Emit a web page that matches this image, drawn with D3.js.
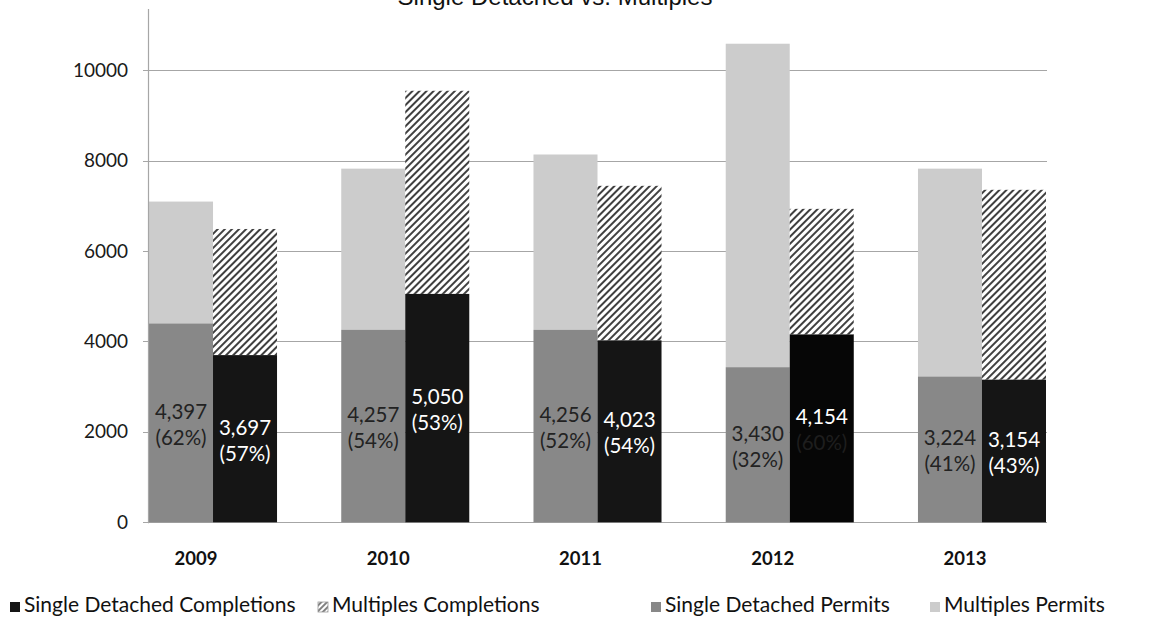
<!DOCTYPE html>
<html><head><meta charset="utf-8">
<script src="https://cdn.jsdelivr.net/npm/d3@7"></script>
<style>body{margin:0;background:#fff}svg{display:block}</style>
</head><body>
<svg id="c" width="1159" height="626"></svg>
<script>
const years = ["2009","2010","2011","2012","2013"];
const singlePermits = [4397,4257,4256,3430,3224];
const multiplesPermits = [2695,3563,3877,7152,4596];
const singleCompletions = [3697,5050,4023,4154,3154];
const multiplesCompletions = [2789,4492,3417,2777,4198];
const permitShareLabels = ["62%","54%","52%","32%","41%"];
const completionShareLabels = ["57%","53%","54%","60%","43%"];
const yTicks = [0,2000,4000,6000,8000,10000];
const seriesNames = ["Single Detached Completions","Multiples Completions","Single Detached Permits","Multiples Permits"];
const titleText = "Single Detached vs. Multiples";

const svg = d3.select("#c");
const FONT = "Lato, 'Open Sans', sans-serif";
const defs = svg.append("defs");
const pat = defs.append("pattern").attr("id","hatch").attr("patternUnits","userSpaceOnUse")
  .attr("width",5).attr("height",5).attr("patternTransform","rotate(45)");
pat.append("rect").attr("width",5).attr("height",5).attr("fill","#fff");
pat.append("line").attr("x1",1).attr("y1",0).attr("x2",1).attr("y2",5).attr("stroke","#404040").attr("stroke-width",2);
const patS = defs.append("pattern").attr("id","hatchS").attr("patternUnits","userSpaceOnUse")
  .attr("width",4).attr("height",4).attr("patternTransform","rotate(45)");
patS.append("rect").attr("width",4).attr("height",4).attr("fill","#fff");
patS.append("line").attr("x1",1).attr("y1",0).attr("x2",1).attr("y2",4).attr("stroke","#555").attr("stroke-width",1.5);

const left = 149, right = 1046;
const y = d3.scaleLinear().domain([0, 11350]).range([522.3, 9]);
const x = d3.scaleBand().domain(years).range([left, right]).paddingInner(0.334).paddingOuter(0);
const xs = d3.scaleBand().domain(["permits","completions"]).range([0, x.bandwidth()]);

// title
svg.append("text").attr("x",555).attr("y",5).attr("text-anchor","middle")
  .attr("font-family","'Liberation Sans', Arial, sans-serif").attr("font-size",24).attr("fill","#111").text(titleText);

// gridlines
svg.append("g").selectAll("line").data(yTicks).join("line")
  .attr("x1",left-6).attr("x2",right+1).attr("y1",d=>Math.round(y(d))+0.5).attr("y2",d=>Math.round(y(d))+0.5)
  .attr("stroke","#a6a6a6").attr("stroke-width",1);

// y axis labels
const yAxis = svg.append("g").attr("transform",`translate(${left-1},0)`)
  .call(d3.axisLeft(y).tickValues(yTicks).tickSize(0).tickPadding(20).tickFormat(d3.format("d")));
yAxis.select(".domain").remove();
yAxis.selectAll("text").attr("font-family",FONT).attr("font-size",19).attr("fill","#1a1a1a");

// stacked data
const stacksP = years.map((yr,i)=>({yr,i,kind:"permits",s:singlePermits[i],m:multiplesPermits[i]}));
const stacksC = years.map((yr,i)=>({yr,i,kind:"completions",s:singleCompletions[i],m:multiplesCompletions[i]}));
const all = stacksP.concat(stacksC);
const bx = d=>x(d.yr)+xs(d.kind);
const bw = xs.bandwidth();

const g = svg.append("g");
g.selectAll("rect.m").data(all).join("rect").attr("class","m")
  .attr("x",bx).attr("width",bw)
  .attr("y",d=>y(d.s+d.m)).attr("height",d=>y(d.s)-y(d.s+d.m))
  .attr("fill",d=>d.kind==="permits"?"#cccccc":"url(#hatch)");
g.selectAll("rect.s").data(all).join("rect").attr("class","s")
  .attr("x",bx).attr("width",bw)
  .attr("y",d=>y(d.s)).attr("height",d=>y(0)-y(d.s))
  .attr("fill",d=>d.kind==="permits"?"#888888":(d.yr==="2012"?"#060606":"#151515"));

// axis line
svg.append("line").attr("x1",left-0.5).attr("x2",left-0.5).attr("y1",y.range()[1]).attr("y2",y(0)+1)
  .attr("stroke","#a6a6a6").attr("stroke-width",1.2);

// data labels
const fmt = d3.format(",");
const lab = svg.append("g").attr("font-family",FONT).attr("font-size",20.5).attr("text-anchor","middle");
all.forEach(d=>{
  const cx = bx(d)+bw/2, cy = y(d.s/2);
  const share = d.kind==="permits"?permitShareLabels[d.i]:completionShareLabels[d.i];
  const c1 = d.kind==="permits"?"#222222":"#ffffff";
  const c2 = d.kind==="permits"?"#222222":(d.yr==="2012"?"#1e1e1e":"#ffffff");
  lab.append("text").attr("x",cx).attr("y",cy-4).attr("fill",c1).text(fmt(d.s));
  lab.append("text").attr("x",cx).attr("y",cy+22).attr("fill",c2).text("("+share+")");
});

// category labels
svg.append("g").selectAll("text").data(years).join("text")
  .attr("x",d=>x(d)+x.bandwidth()/2-17).attr("y",565).attr("text-anchor","middle")
  .attr("font-family",FONT).attr("font-weight","bold").attr("font-size",18.5).attr("fill","#111").text(d=>d);

// legend
const legX = [10, 318, 651, 930];
const legFill = ["#151515","url(#hatchS)","#888888","#cccccc"];
const leg = svg.append("g");
seriesNames.forEach((n,i)=>{
  leg.append("rect").attr("x",legX[i]).attr("y",602).attr("width",10).attr("height",10).attr("fill",legFill[i])
    .attr("stroke",i===1?"#999":"none").attr("stroke-width",0.8);
  leg.append("text").attr("x",legX[i]+14).attr("y",612).attr("font-family",FONT).attr("font-size",21).attr("fill","#111").text(n);
});
</script>
</body></html>
